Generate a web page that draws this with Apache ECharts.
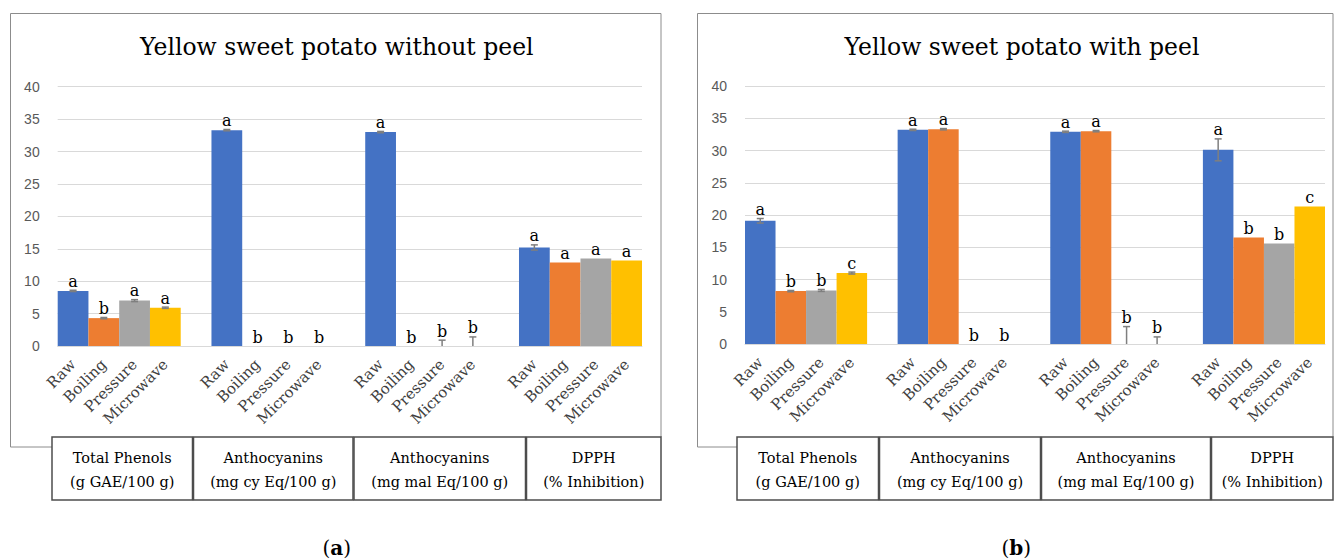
<!DOCTYPE html>
<html><head><meta charset="utf-8">
<script src="https://cdn.jsdelivr.net/npm/echarts@6/dist/echarts.min.js"></script>
<style>html,body{margin:0;padding:0;background:#fff}#c{width:1335px;height:559px}</style>
</head><body><div id="c"></div>
<script>
// ---------- data ----------
const methods = ['Raw', 'Boiling', 'Pressure', 'Microwave'];
const groupNames = ['Total Phenols', 'Anthocyanins', 'Anthocyanins', 'DPPH'];
const groupUnits = ['(g GAE/100 g)', '(mg cy Eq/100 g)', '(mg mal Eq/100 g)', '(% Inhibition)'];
const panelTitles = ['Yellow sweet potato without peel', 'Yellow sweet potato with peel'];
const panelTags = ['a', 'b'];
const yMin = 0, yMax = 40, yStep = 5;

// (a) without peel: one array per method, values per group
const aRaw = [8.5, 33.3, 33.0, 15.2];
const aBoiling = [4.3, 0, 0, 12.9];
const aPressure = [7.0, 0, 0, 13.5];
const aMicrowave = [5.9, 0, 0, 13.2];
const aRawErr = [0.1, 0.1, 0.1, 0.4];
const aBoilingErr = [0.1, 0, 0, 0];
const aPressureErr = [0.15, 0, 0.9, 0];
const aMicrowaveErr = [0.1, 0, 1.4, 0];
const aRawLet = ['a', 'a', 'a', 'a'];
const aBoilingLet = ['b', 'b', 'b', 'a'];
const aPressureLet = ['a', 'b', 'b', 'a'];
const aMicrowaveLet = ['a', 'b', 'b', 'a'];

// (b) with peel
const bRaw = [19.1, 33.2, 32.9, 30.1];
const bBoiling = [8.2, 33.3, 33.0, 16.5];
const bPressure = [8.3, 0, 0, 15.6];
const bMicrowave = [11.0, 0, 0, 21.3];
const bRawErr = [0.35, 0.1, 0.1, 1.7];
const bBoilingErr = [0.1, 0.1, 0.1, 0];
const bPressureErr = [0.15, 0, 2.7, 0];
const bMicrowaveErr = [0.15, 0, 1.1, 0];
const bRawLet = ['a', 'a', 'a', 'a'];
const bBoilingLet = ['b', 'a', 'a', 'b'];
const bPressureLet = ['b', 'b', 'b', 'b'];
const bMicrowaveLet = ['c', 'b', 'b', 'c'];

// ---------- styles ----------
const colors = ['#4472C4', '#ED7D31', '#A5A5A5', '#FFC000'];
const serif = 'DejaVu Serif';

const panels = [
  { vals: [aRaw, aBoiling, aPressure, aMicrowave], errs: [aRawErr, aBoilingErr, aPressureErr, aMicrowaveErr], lets: [aRawLet, aBoilingLet, aPressureLet, aMicrowaveLet] },
  { vals: [bRaw, bBoiling, bPressure, bMicrowave], errs: [bRawErr, bBoilingErr, bPressureErr, bMicrowaveErr], lets: [bRawLet, bBoilingLet, bPressureLet, bMicrowaveLet] }
];

// layout (pixels)
const grids = [
  { left: 57.7, top: 86.7, width: 584.3, height: 259.3 },
  { left: 745, top: 86, width: 580, height: 258 }
];
const frames = [
  { x0: 10.5, x1: 661, top: 13.5, join: 447, boxX: [52, 192.5, 353, 525.5, 661] },
  { x0: 697.5, x1: 1333, top: 13.5, join: 447, boxX: [737, 878.5, 1040.5, 1210.5, 1333] }
];
const boxTop = 437, boxBottom = 500;

// category slots: 4 bars + gap between groups
const slotCount = groupNames.length * (methods.length + 1) - 1;
const slotLabels = [];
for (let g = 0; g < groupNames.length; g++) {
  methods.forEach(m => slotLabels.push(m));
  if (g < groupNames.length - 1) slotLabels.push('');
}
const slotOf = (g, m) => g * (methods.length + 1) + m;

const series = [], xAxes = [], yAxes = [], graphics = [];

panels.forEach((p, k) => {
  xAxes.push({
    type: 'category', gridIndex: k, data: slotLabels, boundaryGap: true,
    axisTick: { show: false },
    axisLine: { show: true, lineStyle: { color: '#d9d9d9', width: 1 } },
    axisLabel: { interval: 0, rotate: 45, margin: 16, fontFamily: serif, fontSize: 15, color: '#404040' },
    splitLine: { show: false }
  });
  yAxes.push({
    type: 'value', gridIndex: k, min: yMin, max: yMax, interval: yStep,
    axisLine: { show: false }, axisTick: { show: false },
    axisLabel: { margin: 18, fontFamily: 'Liberation Sans', fontSize: 14, color: '#595959' },
    splitLine: { lineStyle: { color: '#d9d9d9', width: 1 } }
  });
  methods.forEach((m, mi) => {
    const data = new Array(slotCount).fill('-');
    p.vals[mi].forEach((v, g) => { data[slotOf(g, mi)] = v; });
    series.push({
      type: 'bar', name: m, xAxisIndex: k, yAxisIndex: k, data,
      barGap: '-100%', barCategoryGap: '0%',
      itemStyle: { color: colors[mi] }, silent: true, z: 2
    });
  });
  const ebData = [], ebLetters = [];
  groupNames.forEach((gname, g) => {
    methods.forEach((m, mi) => {
      ebData.push([slotOf(g, mi), p.vals[mi][g], p.errs[mi][g]]);
      ebLetters.push(p.lets[mi][g]);
    });
  });
  series.push({
    type: 'custom', xAxisIndex: k, yAxisIndex: k, data: ebData, z: 5, silent: true,
    renderItem: (params, api) => {
      const x = api.value(0), v = api.value(1), e = api.value(2);
      const hi = v + e, lo = Math.max(0, v - e);
      const pt = api.coord([x, hi]), pb = api.coord([x, lo]);
      const ch = [];
      const st = { stroke: '#7f7f7f', lineWidth: 1.5 };
      if (e > 0) {
        ch.push({ type: 'line', shape: { x1: pt[0], y1: pt[1], x2: pb[0], y2: pb[1] }, style: st });
        ch.push({ type: 'line', shape: { x1: pt[0] - 3.5, y1: pt[1], x2: pt[0] + 3.5, y2: pt[1] }, style: st });
        if (v - e > 0) ch.push({ type: 'line', shape: { x1: pb[0] - 3.5, y1: pb[1], x2: pb[0] + 3.5, y2: pb[1] }, style: st });
      }
      ch.push({ type: 'text', style: { text: ebLetters[params.dataIndex], x: pt[0], y: pt[1] - 1, textAlign: 'center', textVerticalAlign: 'bottom', font: '16px ' + serif, fill: '#000' } });
      return { type: 'group', children: ch };
    }
  });

  // frame and boxes
  const f = frames[k];
  graphics.push({ type: 'polyline', silent: true, shape: { points: [[f.boxX[0], f.join], [f.x0, f.join], [f.x0, f.top], [f.x1, f.top], [f.x1, boxTop]] }, style: { stroke: '#8c8c8c', lineWidth: 1, fill: null } });
  for (let g = 0; g < groupNames.length; g++) {
    const bx0 = f.boxX[g] + (g ? 1 : 0), bx1 = f.boxX[g + 1];
    graphics.push({ type: 'rect', silent: true, shape: { x: bx0, y: boxTop, width: bx1 - bx0, height: boxBottom - boxTop }, style: { stroke: '#4d4d4d', lineWidth: 1.5, fill: '#fff' } });
    graphics.push({ type: 'text', silent: true, style: { text: groupNames[g] + '\n' + groupUnits[g], x: (bx0 + bx1) / 2, y: (boxTop + boxBottom) / 2 + 1, textAlign: 'center', textVerticalAlign: 'middle', font: '14.5px ' + serif, lineHeight: 24, fill: '#000' } });
  }
  const cx = (f.x0 + f.x1) / 2;
  graphics.push({ type: 'text', silent: true, style: { text: panelTitles[k], x: grids[k].left + grids[k].width / 2 - 13, y: 47, textAlign: 'center', textVerticalAlign: 'middle', font: '23.5px ' + serif, fill: '#000' } });
  graphics.push({ type: 'text', silent: true, style: { rich: { n: { fontFamily: serif, fontSize: 20, fill: '#000' }, bd: { fontFamily: serif, fontSize: 20, fontWeight: 'bold', fill: '#000' } }, text: '{n|(}{bd|' + panelTags[k] + '}{n|)}', x: cx + 1, y: 548, textAlign: 'center', textVerticalAlign: 'middle' } });
});

const chart = echarts.init(document.getElementById('c'), null, { renderer: 'svg' });
chart.setOption({
  backgroundColor: '#fff',
  animation: false,
  grid: grids,
  xAxis: xAxes,
  yAxis: yAxes,
  series,
  graphic: graphics
});
</script>
</body></html>
